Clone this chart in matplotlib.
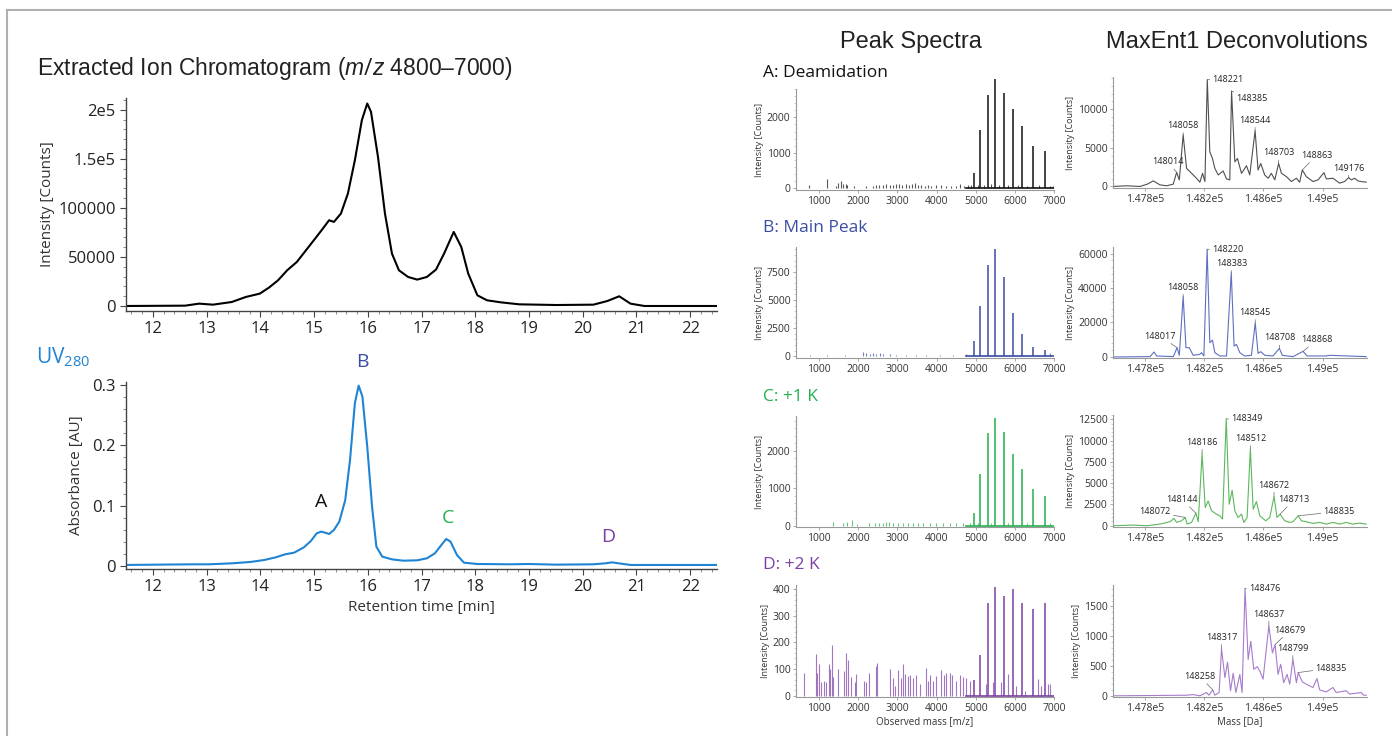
import numpy as np
import matplotlib
matplotlib.use("Agg")
import matplotlib.pyplot as plt
from matplotlib.lines import Line2D
from matplotlib.ticker import MultipleLocator, AutoMinorLocator

plt.rcParams['font.family'] = ['Open Sans', 'DejaVu Sans']
plt.rcParams['mathtext.fontset'] = 'custom'
plt.rcParams['mathtext.rm'] = 'Open Sans'
plt.rcParams['mathtext.it'] = 'Liberation Sans:italic'

# ---- chromatograms (left) ----
eic_t = [11.48, 12.6, 12.86, 13.12, 13.47, 13.73, 13.99, 14.16, 14.33, 14.5, 14.68, 14.85,
         15.02, 15.15, 15.28, 15.37, 15.5, 15.63, 15.76, 15.89, 15.99, 16.06, 16.19, 16.32,
         16.45, 16.58, 16.75, 16.92, 17.1, 17.27, 17.42, 17.6, 17.74, 17.87, 18.04, 18.22,
         18.48, 18.82, 19.51, 20.2, 20.46, 20.68, 20.89, 21.15, 22.5]
eic_int = [0, 340, 2400, 1360, 4080, 9200, 12600, 18700, 26200, 36400, 44900, 56800,
           68700, 77900, 87400, 85700, 94200, 114600, 148600, 189400, 206400, 197900, 152000, 94200,
           53400, 36400, 29600, 26900, 29600, 37100, 53400, 75500, 60200, 33000, 10900, 5800,
           3700, 1700, 1000, 1360, 5100, 9900, 2400, 0, 0]

uv_t = [11.48, 12.78, 13.04, 13.47, 13.81, 14.07, 14.29, 14.46, 14.63, 14.81, 14.94, 15.05,
        15.13, 15.21, 15.28, 15.37, 15.47, 15.58, 15.67, 15.76, 15.83, 15.9, 15.99, 16.08,
        16.16, 16.27, 16.45, 16.66, 16.92, 17.1, 17.25, 17.37, 17.46, 17.54, 17.66, 17.79,
        18.04, 18.65, 18.99, 19.51, 20.2, 20.42, 20.55, 20.71, 20.89, 22.5]
uv_au = [0.0017, 0.0028, 0.0028, 0.0044, 0.0066, 0.0099, 0.0144, 0.0193, 0.0221, 0.0309, 0.0414, 0.0541,
         0.0569, 0.0552, 0.053, 0.0597, 0.0735, 0.109, 0.176, 0.27, 0.299, 0.281, 0.198, 0.098,
         0.032, 0.0155, 0.011, 0.0088, 0.0094, 0.0127, 0.021, 0.0348, 0.0448, 0.0403, 0.0182, 0.0055,
         0.0033, 0.0028, 0.0033, 0.0022, 0.0028, 0.0044, 0.006, 0.0039, 0.0017, 0.0017]

uv_labels = ['A', 'B', 'C', 'D']
uv_label_t = [15.13, 15.9, 17.5, 20.48]

# ---- peak spectra (middle) ----
charge_mz = [4957, 5119, 5306, 5500, 5711, 5944, 6190, 6460, 6766]
spec_a = [430, 1650, 2640, 3080, 2690, 2240, 1750, 1180, 1040]
spec_b = [1390, 4440, 8080, 9520, 7070, 3870, 2020, 810, 520]
spec_c = [340, 1370, 2470, 2880, 2490, 1920, 1500, 970, 790]
spec_d = [60, 152, 348, 407, 376, 400, 348, 327, 348]

noise_a_mz = [745, 1204, 1443, 1485, 1553, 1613, 1698, 1723, 1894, 2208, 2379, 2464, 2532, 2634,
              2719, 2804, 2889, 2974, 3042, 3127, 3212, 3298, 3383, 3442, 3528, 3613, 3698, 3783,
              3868, 3995, 4123, 4251, 4379, 4506, 4591, 4693, 4804, 4889, 5050, 5210, 5400, 5600,
              5830, 6070, 6320, 6610, 6900, 6980]
noise_a = [100, 260, 75, 150, 200, 130, 130, 100, 75, 75, 56, 94, 94, 100,
           130, 94, 100, 113, 130, 100, 130, 100, 113, 150, 100, 94, 75, 94,
           75, 94, 85, 75, 75, 75, 113, 75, 94, 100, 80, 90, 110, 100,
           90, 80, 70, 80, 60, 50]
noise_b_mz = [780, 1204, 1655, 2123, 2208, 2294, 2379, 2464, 2549, 2634, 2804, 2974, 3230, 3485,
              3740, 4080, 4420, 4761, 6900]
noise_b = [145, 87, 115, 346, 290, 230, 260, 230, 320, 200, 170, 145, 145, 115,
           145, 115, 145, 170, 300]
noise_c_mz = [1357, 1613, 1715, 1843, 1970, 2277, 2421, 2532, 2634, 2719, 2787, 2889, 3017, 3145,
              3272, 3400, 3528, 3655, 3825, 3995, 4166, 4336, 4506, 4676, 4846, 5050, 5400, 5830,
              6320, 6900]
noise_c = [88, 70, 88, 140, 44, 80, 80, 70, 70, 106, 88, 70, 70, 80,
           70, 70, 80, 62, 70, 62, 70, 62, 70, 80, 70, 60, 80, 70, 60, 70]
noise_d_mz = [626, 915, 950, 1000, 1060, 1128, 1187, 1255, 1272, 1323, 1357, 1485, 1638, 1698,
              1749, 1825, 1910, 1936, 2140, 2208, 2276, 2446, 2480, 2820, 2889, 2932, 3017, 3102,
              3145, 3204, 3272, 3332, 3400, 3468, 3570, 3723, 3783, 3842, 3910, 3995, 4123, 4183,
              4251, 4336, 4404, 4489, 4591, 4676, 4761, 4846, 5272, 5442, 5655, 5825, 6038, 6250,
              6591, 6676, 6846, 6889]
noise_d = [84, 158, 87, 118, 52, 56, 53, 120, 102, 190, 71, 99, 93, 161,
           134, 71, 50, 83, 56, 50, 87, 112, 122, 99, 65, 37, 96, 65,
           118, 81, 75, 77, 68, 79, 43, 103, 56, 77, 56, 75, 97, 77,
           87, 84, 77, 56, 77, 72, 68, 56, 43, 52, 50, 81, 37, 19,
           62, 37, 43, 43]

# ---- MaxEnt1 deconvolutions (right) ----
dec_a_mass = [147586, 147676, 147766, 147816, 147856, 147901, 147946, 147991, 148014, 148032, 148058,
              148081, 148115, 148148, 148171, 148189, 148205, 148221, 148238, 148256, 148272, 148295,
              148328, 148351, 148373, 148385, 148407, 148425, 148452, 148486, 148508, 148544, 148564,
              148582, 148609, 148632, 148654, 148677, 148703, 148722, 148755, 148789, 148823, 148845,
              148863, 148890, 148935, 148969, 149009, 149025, 149070, 149115, 149149, 149176, 149194,
              149216, 149239, 149261, 149295]
dec_a = [0, 85, 0, 300, 720, 210, 85, 300, 1830, 850, 6680,
         2340, 1700, 1060, 550, 1700, 640, 13830, 4470, 3620, 2340, 1490,
         2000, 980, 850, 12340, 3190, 3620, 1700, 2680, 1490, 7230, 2130,
         2980, 1490, 1060, 1700, 850, 2980, 1700, 1280, 640, 1060, 550,
         2130, 1280, 640, 850, 1790, 980, 1060, 430, 640, 1150, 850,
         1060, 720, 640, 550]
dec_b_mass = [147586, 147834, 147861, 147879, 147991, 148017, 148032, 148058, 148077, 148099, 148126,
              148171, 148182, 148198, 148220, 148238, 148256, 148272, 148306, 148351, 148383, 148402,
              148418, 148441, 148474, 148519, 148545, 148564, 148582, 148609, 148665, 148708, 148728,
              148800, 148868, 148895, 149025, 149048, 149295]
dec_b = [0, 190, 2880, 580, 190, 5370, 960, 35080, 5370, 5370, 960,
         1530, 2490, 580, 62490, 8240, 9780, 2490, 580, 580, 48880, 6330,
         7280, 2490, 580, 960, 19740, 2110, 3070, 960, 580, 4980, 960,
         190, 3260, 580, 580, 960, 190]
dec_c_mass = [147586, 147721, 147811, 147901, 147969, 147996, 148014, 148047, 148072, 148085, 148115,
              148144, 148160, 148186, 148207, 148227, 148250, 148283, 148306, 148324, 148349, 148369,
              148389, 148407, 148429, 148452, 148468, 148490, 148512, 148531, 148553, 148576, 148616,
              148643, 148672, 148692, 148713, 148744, 148778, 148800, 148835, 148857, 148890, 148935,
              148980, 149025, 149070, 149115, 149160, 149205, 149250, 149295]
dec_c = [0, 80, 0, 190, 470, 850, 390, 580, 970, 190, 390,
         1480, 470, 8460, 2140, 2910, 1750, 1360, 1160, 780, 12540, 2520,
         4150, 1750, 970, 1360, 390, 970, 9010, 1940, 2830, 1160, 580,
         970, 3420, 970, 1360, 580, 390, 470, 1160, 580, 470, 270,
         390, 190, 390, 190, 390, 190, 310, 190]
dec_d_mass = [147586, 148081, 148126, 148171, 148216, 148232, 148258, 148272, 148301, 148317, 148340,
              148358, 148378, 148396, 148414, 148441, 148456, 148476, 148497, 148515, 148535, 148558,
              148576, 148598, 148637, 148661, 148679, 148699, 148717, 148737, 148760, 148778, 148799,
              148823, 148835, 148863, 148890, 148935, 148962, 148980, 149025, 149070, 149092, 149160,
              149182, 149261, 149277, 149295]
dec_d = [0, 10, 20, 0, 55, 10, 100, 10, 55, 790, 305,
         565, 85, 380, 55, 360, 55, 1805, 610, 915, 445, 490,
         415, 280, 1180, 720, 860, 360, 530, 220, 360, 195, 620,
         220, 390, 235, 195, 140, 290, 100, 65, 140, 55, 85,
         30, 55, 10, 10]

lab_a = [148014, 148058, 148221, 148385, 148544, 148703, 148863, 149176]
lab_b = [148017, 148058, 148220, 148383, 148545, 148708, 148868]
lab_c = [148072, 148144, 148186, 148349, 148512, 148672, 148713, 148835]
lab_d = [148258, 148317, 148476, 148637, 148679, 148799, 148835]

# label offsets in pixels (dx, dy, ha)
off_a = [(-9, 6, 'center'), (0, 5, 'center'), (5, 0, 'left'), (5, -7, 'left'), (0, 6, 'center'),
         (0, 6, 'center'), (14, 10, 'center'), (0, 5, 'center')]
off_b = [(-17, 7, 'center'), (0, 5, 'center'), (5, 0, 'left'), (0, 5, 'center'), (0, 6, 'center'),
         (0, 6, 'center'), (14, 7, 'center')]
off_c = [(-30, 1, 'center'), (-14, 9, 'center'), (0, 7, 'center'), (5, 0, 'left'), (0, 6, 'center'),
         (0, 7, 'center'), (14, 10, 'center'), (41, 0, 'center')]
off_d = [(-13, 9, 'center'), (0, 7, 'center'), (4, 0, 'left'), (0, 7, 'center'), (15, 10, 'center'),
         (0, 6, 'center'), (33, 0, 'center')]

W, H = 1392, 736
fig = plt.figure(figsize=(W / 100, H / 100), dpi=100)


def rect(l, t, r, b):
    return [l / W, 1 - b / H, (r - l) / W, (b - t) / H]


def ftext(x, y, s, **kw):
    fig.text(x / W, 1 - y / H, s, **kw)


# frame lines
fig.add_artist(Line2D([7 / W, 1], [1 - 10 / H, 1 - 10 / H], color='#b0b0b0', lw=1.5))
fig.add_artist(Line2D([7 / W, 7 / W], [0, 1 - 10 / H], color='#b0b0b0', lw=1.5))


def style_left(ax):
    for s in ['top', 'right']:
        ax.spines[s].set_visible(False)
    for s in ['left', 'bottom']:
        ax.spines[s].set_color('#444444')
        ax.spines[s].set_linewidth(1.0)
    ax.tick_params(which='major', length=4, width=0.8, colors='#444444', labelsize=12,
                   labelcolor='#222222')
    ax.tick_params(which='minor', length=2, width=0.6, colors='#777777')
    ax.xaxis.set_major_locator(MultipleLocator(1))
    ax.xaxis.set_minor_locator(AutoMinorLocator(5))
    ax.set_xlim(11.5, 22.5)


# EIC
ax1 = fig.add_axes(rect(126, 98, 717, 311))
ax1.plot(eic_t, eic_int, color='black', lw=1.5)
style_left(ax1)
ax1.set_ylim(-5100, 212000)
ax1.set_yticks([0, 50000, 100000, 150000, 200000])
ax1.set_yticklabels(['0', '50000', '100000', '1.5e5', '2e5'])
ax1.yaxis.set_minor_locator(AutoMinorLocator(5))
ax1.set_ylabel('Intensity [Counts]', fontsize=11, color='#333333', labelpad=2)
ftext(37, 68, r'Extracted Ion Chromatogram ($m/z$ 4800–7000)', fontsize=16.5,
      family=['Liberation Sans', 'DejaVu Sans'], va='center', color='#222222')

# UV
ax2 = fig.add_axes(rect(126, 382, 717, 569))
ax2.plot(uv_t, uv_au, color='#1f84d4', lw=1.5)
style_left(ax2)
ax2.set_ylim(-0.005, 0.305)
ax2.set_yticks([0, 0.1, 0.2, 0.3])
ax2.set_yticklabels(['0', '0.1', '0.2', '0.3'])
ax2.yaxis.set_minor_locator(AutoMinorLocator(5))
ax2.set_ylabel('Absorbance [AU]', fontsize=11, color='#333333', labelpad=6)
ax2.set_xlabel('Retention time [min]', fontsize=11, color='#333333', labelpad=3)
ftext(36, 357, r'UV$_{280}$', fontsize=15, color='#1f84d4', va='center')
peak_cols = ['#111111', '#3a4da3', '#22b04b', '#7a3fa6']
lab_y = [0.106, 0.338, 0.08, 0.048]
for lab, t, yv, c in zip(uv_labels, uv_label_t, lab_y, peak_cols):
    ax2.text(t, yv, lab, color=c, fontsize=14, ha='center', va='center', clip_on=False)

# headers
ftext(911, 42, 'Peak Spectra', fontsize=17, family=['Liberation Sans', 'DejaVu Sans'],
      ha='center', va='center', color='#222222')
ftext(1237, 42, 'MaxEnt1 Deconvolutions', fontsize=17, family=['Liberation Sans', 'DejaVu Sans'],
      ha='center', va='center', color='#222222')


def style_small(ax):
    for s in ['top', 'right']:
        ax.spines[s].set_visible(False)
    for s in ['left', 'bottom']:
        ax.spines[s].set_color('#999999')
        ax.spines[s].set_linewidth(0.8)
    ax.tick_params(which='major', length=2.5, width=0.6, colors='#999999', labelsize=7.5,
                   labelcolor='#333333', pad=1.5)
    ax.tick_params(which='minor', length=1.5, width=0.5, colors='#bbbbbb')
    ax.yaxis.set_minor_locator(AutoMinorLocator(5))


spec_rows = [(89, 190), (247, 358), (416, 527), (585, 697)]
dec_rows = [(77, 188), (247, 358), (415, 527), (585, 697)]
spec_vals = [spec_a, spec_b, spec_c, spec_d]
noise_mz = [noise_a_mz, noise_b_mz, noise_c_mz, noise_d_mz]
noise_v = [noise_a, noise_b, noise_c, noise_d]
spec_ylim = [(-50, 2800), (-150, 9700), (-40, 2930), (-5, 416)]
spec_yt = [[0, 1000, 2000], [0, 2500, 5000, 7500], [0, 1000, 2000], [0, 100, 200, 300, 400]]
titles = ['A: Deamidation', 'B: Main Peak', 'C: +1 K', 'D: +2 K']
title_y = [73, 228, 397, 565]
dec_cols = ['#505050', '#5f6fc0', '#5cb85c', '#a67ccc']
dec_m = [dec_a_mass, dec_b_mass, dec_c_mass, dec_d_mass]
dec_v = [dec_a, dec_b, dec_c, dec_d]
dec_ylim = [(-200, 14170), (-600, 63800), (-150, 13000), (-20, 1861)]
dec_yt = [[0, 5000, 10000], [0, 20000, 40000, 60000], [0, 2500, 5000, 7500, 10000, 12500],
          [0, 500, 1000, 1500]]
labs = [lab_a, lab_b, lab_c, lab_d]
offs = [off_a, off_b, off_c, off_d]

for i in range(4):
    col = peak_cols[i]
    t, b = spec_rows[i]
    ax = fig.add_axes(rect(796, t, 1054, b))
    ax.vlines(noise_mz[i], 0, noise_v[i], color=col, lw=0.8, alpha=0.7)
    ax.axhline(0, xmin=0.66, xmax=1, color=col, lw=1.2)
    ax.vlines(charge_mz, 0, spec_vals[i], color=col, lw=1.1, clip_on=False)
    ax.set_xlim(410, 7000)
    ax.set_ylim(*spec_ylim[i])
    ax.set_xticks([1000, 2000, 3000, 4000, 5000, 6000, 7000])
    ax.set_yticks(spec_yt[i])
    style_small(ax)
    ax.set_ylabel('Intensity [Counts]', fontsize=6.5, color='#333333', labelpad=2)
    if i == 3:
        ax.set_xlabel('Observed mass [m/z]', fontsize=7, color='#333333', labelpad=2)
    ftext(763, title_y[i], titles[i], fontsize=12.5, color=col, va='center')

    t, b = dec_rows[i]
    ax = fig.add_axes(rect(1113, t, 1367, b))
    ax.plot(dec_m[i], dec_v[i], color=dec_cols[i], lw=0.8)
    ax.set_xlim(147584, 149300)
    ax.set_ylim(*dec_ylim[i])
    ax.set_xticks([147800, 148200, 148600, 149000])
    ax.set_xticklabels(['1.478e5', '1.482e5', '1.486e5', '1.49e5'])
    ax.set_yticks(dec_yt[i])
    style_small(ax)
    ax.set_ylabel('Intensity [Counts]', fontsize=6.5, color='#333333', labelpad=2)
    if i == 3:
        ax.set_xlabel('Mass [Da]', fontsize=7, color='#333333', labelpad=2)
    for m, (dx, dy, ha) in zip(labs[i], offs[i]):
        h = np.interp(m, dec_m[i], dec_v[i])
        ax.annotate(str(m), xy=(m, h), xytext=(dx, dy), textcoords='offset pixels',
                    fontsize=6.5, ha=ha, va='bottom' if ha == 'center' else 'center',
                    color='#222222',
                    arrowprops=dict(arrowstyle='-', color='#666666', lw=0.5,
                                    shrinkA=0, shrinkB=0))

fig.savefig('out.png', dpi=100)
